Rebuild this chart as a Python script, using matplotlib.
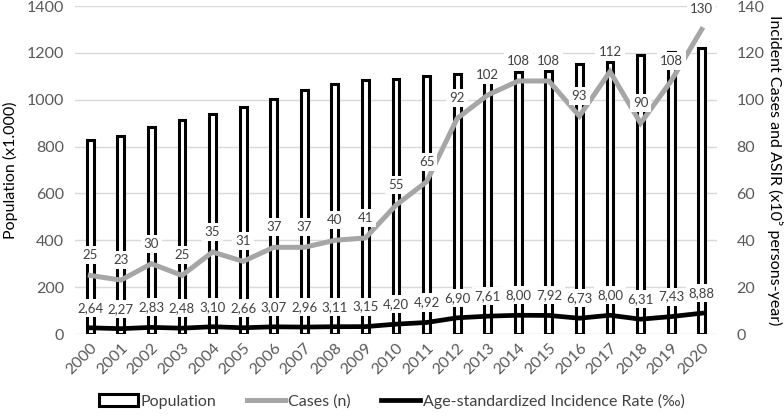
import matplotlib
matplotlib.use("Agg")
import matplotlib.pyplot as plt
from matplotlib.patches import Patch
from matplotlib.lines import Line2D
import numpy as np

plt.rcParams['font.family'] = ['Lato', 'DejaVu Sans']

years = [str(y) for y in range(2000, 2021)]
population = [830, 845, 883, 913, 940, 969, 1004, 1043, 1068, 1084, 1090,
              1101, 1111, 1115, 1119, 1121, 1152, 1161, 1189, 1205, 1219]
cases = [25, 23, 30, 25, 35, 31, 37, 37, 40, 41, 55,
         65, 92, 102, 108, 108, 93, 112, 90, 108, 130]
asir = [2.64, 2.27, 2.83, 2.48, 3.10, 2.66, 3.07, 2.96, 3.11, 3.15, 4.20,
        4.92, 6.90, 7.61, 8.00, 7.92, 6.73, 8.00, 6.31, 7.43, 8.88]

W, H = 784, 416
fig = plt.figure(figsize=(W / 100, H / 100), dpi=100)
ax = fig.add_axes([75 / W, (H - 334) / H, (717 - 75) / W, (334 - 6) / H])
ax2 = ax.twinx()

x = np.arange(len(years))
tick_color = '#595959'
grid_color = '#d9d9d9'

ax.bar(x, population, width=0.22, facecolor='white', edgecolor='black',
       linewidth=2.2, zorder=2)
ax.set_ylim(0, 1400)
ax.set_yticks(range(0, 1401, 200))
ax.set_xlim(-0.5, 20.5)
ax.set_xticks(x)
ax.set_xticklabels(years, rotation=45, ha='right', rotation_mode='anchor',
                   fontsize=11.5, color=tick_color)
ax.tick_params(axis='y', labelsize=11.5, labelcolor=tick_color, length=0, pad=8)
ax.tick_params(axis='x', length=0, pad=5)
ax.yaxis.grid(True, color=grid_color, linewidth=1, zorder=0)
ax.set_axisbelow(True)
for s in ax.spines.values():
    s.set_visible(False)
for s in ax2.spines.values():
    s.set_visible(False)
ax.set_ylabel('Population (x1.000)', fontsize=11.5, color='black', labelpad=6)

ax2.set_ylim(0, 140)
ax2.set_yticks(range(0, 141, 20))
ax2.tick_params(axis='y', labelsize=11.5, labelcolor=tick_color, length=0, pad=14)
ax2.set_ylabel('Incident Cases and ASIR (x10\u2075 persons-year)', fontsize=11.5,
               rotation=270, labelpad=14, color='black')

ax2.plot(x, cases, color='#a6a6a6', linewidth=3.6, zorder=3,
         solid_joinstyle='miter')
ax2.plot(x, asir, color='black', linewidth=3.4, zorder=4)

box = dict(facecolor='white', edgecolor='none', pad=2.2)
for xi, c in zip(x, cases):
    ax2.annotate(f'{c}', (xi, c), xytext=(0, 20), textcoords='offset pixels',
                 ha='center', va='center', fontsize=9.5, color='#404040',
                 bbox=box, zorder=6)
for xi, a in zip(x, asir):
    ax2.annotate(f'{a:.2f}'.replace('.', ','), (xi, a), xytext=(0, 20),
                 textcoords='offset pixels', ha='center', va='center',
                 fontsize=9.5, color='#404040', bbox=box, zorder=6)

handles = [Patch(facecolor='white', edgecolor='black', linewidth=2.2),
           Line2D([0], [0], color='#a6a6a6', linewidth=3.6),
           Line2D([0], [0], color='black', linewidth=3.4)]
labels = ['Population', 'Cases (n)', 'Age-standardized Incidence Rate (\u2030)']
fig.legend(handles, labels, loc='center', bbox_to_anchor=(0.5, (H - 401) / H),
           ncol=3, frameon=False, fontsize=11.5, handlelength=2.4,
           handletextpad=0.2, columnspacing=1.9, labelcolor='#404040')

fig.savefig('out.png', dpi=100)
